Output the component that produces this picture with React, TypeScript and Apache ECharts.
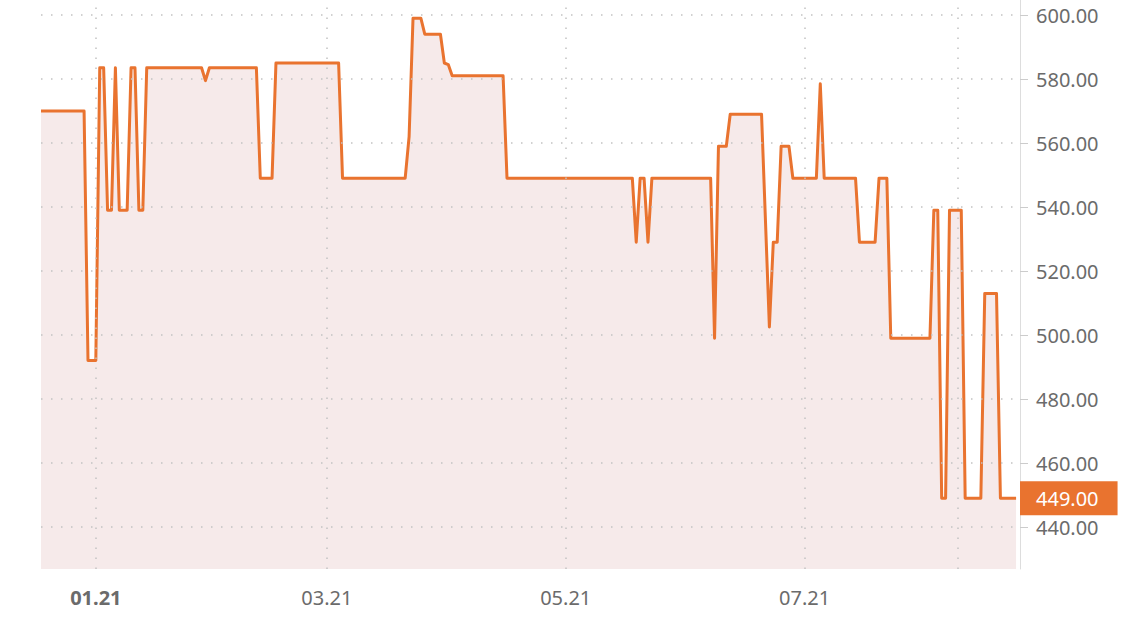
import React, { useEffect, useRef } from "react";
import * as echarts from "echarts";

// ---- data ----
const dates = [
  "2020-12-18", "2020-12-29", "2020-12-30", "2021-01-01", "2021-01-02", "2021-01-03",
  "2021-01-04", "2021-01-05", "2021-01-06", "2021-01-07", "2021-01-09", "2021-01-10",
  "2021-01-11", "2021-01-12", "2021-01-13", "2021-01-14", "2021-01-28", "2021-01-29",
  "2021-01-30", "2021-02-11", "2021-02-12", "2021-02-15", "2021-02-16", "2021-03-04",
  "2021-03-05", "2021-03-21", "2021-03-22", "2021-03-23", "2021-03-25", "2021-03-26",
  "2021-03-30", "2021-03-31", "2021-04-01", "2021-04-02", "2021-04-15", "2021-04-16",
  "2021-05-18", "2021-05-19", "2021-05-20", "2021-05-21", "2021-05-22", "2021-05-23",
  "2021-06-07", "2021-06-08", "2021-06-09", "2021-06-11", "2021-06-12", "2021-06-20",
  "2021-06-22", "2021-06-23", "2021-06-24", "2021-06-25", "2021-06-27", "2021-06-28",
  "2021-07-04", "2021-07-05", "2021-07-06", "2021-07-14", "2021-07-15", "2021-07-19",
  "2021-07-20", "2021-07-22", "2021-07-23", "2021-08-02", "2021-08-03", "2021-08-04",
  "2021-08-05", "2021-08-06", "2021-08-07", "2021-08-10", "2021-08-11", "2021-08-15",
  "2021-08-16", "2021-08-19", "2021-08-20", "2021-08-24",
];
const prices = [
  570, 570, 492, 492, 583.5, 583.5,
  539, 539, 583.5, 539, 539, 583.5,
  583.5, 539, 539, 583.5, 583.5, 579.5,
  583.5, 583.5, 549, 549, 585, 585,
  549, 549, 562, 599, 599, 594,
  594, 585, 584.5, 581, 581, 549,
  549, 529, 549, 549, 529, 549,
  549, 499, 559, 559, 569, 569,
  502.5, 529, 529, 559, 559, 549,
  549, 578.5, 549, 549, 529, 529,
  549, 549, 499, 499, 539, 539,
  449, 449, 539, 539, 449, 449,
  513, 513, 449, 449,
];
const yTickValues = [440, 460, 480, 500, 520, 540, 560, 580, 600];
const xLabelDates = ["2021-01-01", "2021-03-01", "2021-05-01", "2021-07-01"];
const xGridDates = ["2021-01-01", "2021-03-01", "2021-05-01", "2021-07-01", "2021-08-09"];
const lastPrice = 449;
const xMinDate = "2020-12-18";
const xMaxDate = "2021-08-25";
const yMin = 426.875;
const yMax = 604.6875;

const ts = (s: string) => new Date(s + "T00:00:00").getTime();

const ORANGE = "#E9732F";
const LABEL = "#6b6b6b";
const DOTS = "#c2c2c2";
const FONT = '"Noto Sans", "Open Sans", sans-serif';

export default function App() {
  const ref = useRef<HTMLDivElement>(null);

  useEffect(() => {
    if (!ref.current) return;
    const chart = echarts.init(ref.current, undefined, { renderer: "svg" });
    const data = dates.map((d, i) => [ts(d), prices[i]]);

    const gridLines = [
      ...xGridDates.map((d) => ({ xAxis: ts(d) })),
      ...yTickValues.map((v) => ({ yAxis: v })),
    ];

    chart.setOption({
      animation: false,
      backgroundColor: "#ffffff",
      grid: { left: 41, top: 0, width: 979, height: 569, containLabel: false },
      xAxis: {
        type: "value",
        min: ts(xMinDate),
        max: ts(xMaxDate),
        axisLine: { show: false },
        axisTick: { show: false },
        splitLine: { show: false },
        axisLabel: {
          customValues: xLabelDates.map(ts),
          fontFamily: FONT,
          fontSize: 20,
          color: LABEL,
          margin: 18,
          hideOverlap: false,
          formatter: (v: number) => {
            const d = new Date(v);
            const mm = String(d.getMonth() + 1).padStart(2, "0");
            const yy = String(d.getFullYear() % 100).padStart(2, "0");
            const s = mm + "." + yy;
            return d.getMonth() === 0 ? "{b|" + s + "}" : s;
          },
          rich: {
            b: { fontFamily: FONT, fontSize: 20, fontWeight: "bold", color: LABEL },
          },
        },
      },
      yAxis: [
        {
          type: "value",
          position: "right",
          min: yMin,
          max: yMax,
          splitNumber: 9,
          axisLine: { show: true, lineStyle: { color: "#dddddd", width: 1 } },
          axisTick: {
            show: true,
            customValues: yTickValues,
            length: 8,
            lineStyle: { color: "#cccccc" },
          },
          axisLabel: {
            customValues: yTickValues,
            fontFamily: FONT,
            fontSize: 20,
            color: LABEL,
            margin: 16,
            padding: [3, 0, 0, 0],
            formatter: (v: number) =>
              Math.abs(v / 20 - Math.round(v / 20)) < 1e-6 ? v.toFixed(2) : "",
          },
          splitLine: { show: false },
        },
        {
          type: "value",
          position: "right",
          min: yMin,
          max: yMax,
          axisLine: { show: false },
          axisTick: { show: false },
          splitLine: { show: false },
          axisLabel: {
            customValues: [lastPrice],
            fontFamily: FONT,
            fontSize: 20,
            lineHeight: 20,
            color: "#ffffff",
            backgroundColor: ORANGE,
            padding: [7, 19, 7, 16],
            margin: 0,
            formatter: (v: number) => v.toFixed(2),
          },
        },
      ],
      series: [
        {
          type: "line",
          data,
          yAxisIndex: 0,
          z: 1,
          symbol: "none",
          showSymbol: false,
          lineStyle: { width: 0, opacity: 0 },
          areaStyle: { color: "#F6EAEA", opacity: 1, origin: "start" },
          markLine: {
            silent: true,
            symbol: ["none", "none"],
            label: { show: false },
            emphasis: { disabled: true },
            lineStyle: { color: DOTS, width: 1.5, type: [1.5, 8.5] },
            data: gridLines,
          },
        },
        {
          type: "line",
          data,
          yAxisIndex: 0,
          z: 3,
          symbol: "none",
          showSymbol: false,
          lineStyle: { color: ORANGE, width: 3, join: "round" },
        },
      ],
    });

    return () => chart.dispose();
  }, []);

  return (
    <div
      ref={ref}
      style={{ position: "fixed", left: 0, top: 0, width: 1130, height: 620 }}
    />
  );
}
